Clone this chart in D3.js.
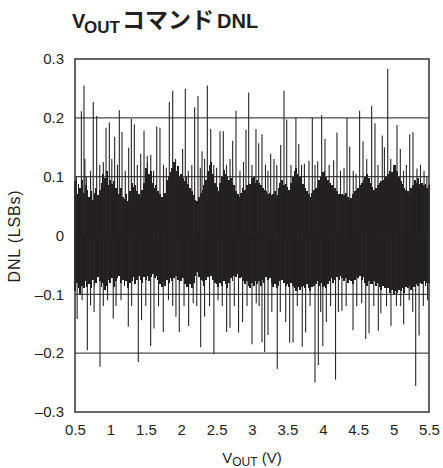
<!DOCTYPE html>
<html>
<head>
<meta charset="utf-8">
<script src="https://cdn.jsdelivr.net/npm/d3@7"></script>
<style>
body { margin: 0; background: #fff; }
text { font-family: "Liberation Sans", Arial, sans-serif; fill: #231f20; }
</style>
</head>
<body>
<div id="chart"></div>
<script>
// VOUT command DNL
const xTicks = [0.5, 1, 1.5, 2, 2.5, 3, 3.5, 4, 4.5, 5, 5.5];
const yTicks = [-0.3, -0.2, -0.1, 0, 0.1, 0.2, 0.3];
const yGrid = [-0.2, -0.1, 0.1, 0.2];

// solid part of the band, one value per 0.1 V from 0.5 V to 5.5 V
const coreHi = [0.06, 0.055, 0.045, 0.05, 0.065, 0.06, 0.05, 0.045, 0.055, 0.045,
  0.08, 0.055, 0.045, 0.065, 0.08, 0.065, 0.055, 0.045, 0.05, 0.08,
  0.05, 0.07, 0.06, 0.045, 0.05, 0.06, 0.06, 0.05, 0.045, 0.06,
  0.05, 0.07, 0.06, 0.045, 0.05, 0.07, 0.06, 0.05, 0.045, 0.045,
  0.05, 0.065, 0.05, 0.06, 0.065, 0.075, 0.06, 0.05, 0.06, 0.06, 0.055];
const coreLo = [-0.075, -0.07, -0.065, -0.06, -0.065, -0.06, -0.055, -0.065, -0.06, -0.055,
  -0.055, -0.05, -0.065, -0.06, -0.055, -0.06, -0.07, -0.05, -0.06, -0.055,
  -0.065, -0.065, -0.055, -0.05, -0.065, -0.065, -0.06, -0.055, -0.07, -0.06,
  -0.065, -0.075, -0.07, -0.075, -0.065, -0.07, -0.06, -0.055, -0.06, -0.06,
  -0.055, -0.065, -0.065, -0.075, -0.08, -0.085, -0.08, -0.075, -0.07, -0.065, -0.065];

// ragged edge of the band, one value per 0.025 V from 0.5 V to 5.5 V
const edgeHi = [
  0.092, 0.07, 0.088, 0.08, 0.095, 0.072, 0.085, 0.078,
  0.066, 0.075, 0.06, 0.072, 0.08, 0.068, 0.078, 0.09,
  0.105, 0.098, 0.11, 0.085, 0.095, 0.088, 0.092, 0.08,
  0.078, 0.07, 0.08, 0.065, 0.062, 0.07, 0.058, 0.075,
  0.09, 0.082, 0.085, 0.075, 0.07, 0.065, 0.078, 0.09,
  0.115, 0.125, 0.105, 0.11, 0.09, 0.08, 0.085, 0.075,
  0.07, 0.065, 0.078, 0.072, 0.095, 0.1, 0.108, 0.115,
  0.125, 0.11, 0.118, 0.1, 0.105, 0.098, 0.092, 0.1,
  0.088, 0.08, 0.075, 0.068, 0.06, 0.058, 0.065, 0.072,
  0.078, 0.085, 0.095, 0.11, 0.12, 0.125, 0.105, 0.09,
  0.082, 0.075, 0.09, 0.1, 0.112, 0.105, 0.1, 0.095,
  0.098, 0.09, 0.085, 0.075, 0.07, 0.065, 0.072, 0.08,
  0.078, 0.085, 0.09, 0.088, 0.098, 0.1, 0.09, 0.095,
  0.09, 0.085, 0.08, 0.078, 0.075, 0.07, 0.072, 0.068,
  0.07, 0.075, 0.068, 0.08, 0.09, 0.095, 0.085, 0.088,
  0.082, 0.078, 0.09, 0.1, 0.11, 0.115, 0.105, 0.1,
  0.092, 0.088, 0.08, 0.075, 0.07, 0.066, 0.072, 0.078,
  0.08, 0.085, 0.095, 0.1, 0.108, 0.11, 0.1, 0.095,
  0.09, 0.085, 0.078, 0.08, 0.075, 0.07, 0.072, 0.07,
  0.068, 0.072, 0.065, 0.06, 0.064, 0.07, 0.075, 0.078,
  0.08, 0.085, 0.09, 0.095, 0.1, 0.105, 0.098, 0.09,
  0.082, 0.078, 0.08, 0.085, 0.09, 0.092, 0.095, 0.1,
  0.1, 0.105, 0.11, 0.108, 0.115, 0.12, 0.11, 0.1,
  0.092, 0.088, 0.08, 0.078, 0.075, 0.07, 0.08, 0.085,
  0.095, 0.09, 0.098, 0.088, 0.09, 0.085, 0.088, 0.08,
  0.085];
const edgeLo = [
  -0.095, -0.08, -0.09, -0.1, -0.085, -0.09, -0.078, -0.088,
  -0.082, -0.09, -0.075, -0.085, -0.08, -0.07, -0.078, -0.088,
  -0.08, -0.092, -0.085, -0.075, -0.08, -0.072, -0.088, -0.078,
  -0.072, -0.068, -0.08, -0.075, -0.085, -0.078, -0.09, -0.08,
  -0.078, -0.07, -0.082, -0.075, -0.068, -0.075, -0.08, -0.07,
  -0.075, -0.068, -0.078, -0.07, -0.065, -0.072, -0.068, -0.075,
  -0.082, -0.088, -0.078, -0.085, -0.075, -0.08, -0.072, -0.078,
  -0.072, -0.068, -0.075, -0.08, -0.078, -0.072, -0.082, -0.088,
  -0.088, -0.082, -0.09, -0.08, -0.068, -0.062, -0.07, -0.075,
  -0.078, -0.085, -0.075, -0.07, -0.072, -0.068, -0.075, -0.08,
  -0.082, -0.088, -0.08, -0.085, -0.078, -0.082, -0.09, -0.08,
  -0.072, -0.078, -0.068, -0.07, -0.065, -0.072, -0.07, -0.078,
  -0.082, -0.078, -0.085, -0.09, -0.08, -0.085, -0.078, -0.082,
  -0.078, -0.085, -0.075, -0.08, -0.07, -0.075, -0.072, -0.08,
  -0.088, -0.082, -0.09, -0.085, -0.078, -0.075, -0.08, -0.085,
  -0.082, -0.088, -0.08, -0.085, -0.09, -0.095, -0.088, -0.092,
  -0.088, -0.085, -0.09, -0.082, -0.09, -0.095, -0.088, -0.085,
  -0.082, -0.078, -0.085, -0.08, -0.088, -0.085, -0.09, -0.082,
  -0.078, -0.072, -0.08, -0.075, -0.07, -0.075, -0.068, -0.072,
  -0.078, -0.072, -0.08, -0.075, -0.078, -0.082, -0.075, -0.07,
  -0.072, -0.068, -0.075, -0.07, -0.08, -0.085, -0.078, -0.082,
  -0.082, -0.078, -0.085, -0.08, -0.088, -0.092, -0.085, -0.09,
  -0.095, -0.09, -0.098, -0.092, -0.1, -0.095, -0.098, -0.092,
  -0.095, -0.09, -0.098, -0.088, -0.09, -0.085, -0.092, -0.088,
  -0.088, -0.082, -0.085, -0.08, -0.082, -0.078, -0.085, -0.08,
  -0.08];

// individual codes sticking out of the band
const upV = [0.52, 0.59, 0.627, 0.64, 0.66, 0.72, 0.758, 0.806, 0.85, 0.9, 0.938, 0.985,
  1.02, 1.06, 1.1, 1.126, 1.164, 1.21, 1.258, 1.296, 1.338, 1.38, 1.428, 1.475,
  1.52, 1.57, 1.61, 1.654, 1.7, 1.75, 1.79, 1.832, 1.88, 1.92, 1.96, 2.02, 2.058,
  2.1, 2.15, 2.19, 2.237, 2.27, 2.294, 2.33, 2.369, 2.417, 2.46, 2.5, 2.548, 2.595,
  2.64, 2.69, 2.727, 2.774, 2.83, 2.88, 2.915, 2.953, 3.0, 3.056, 3.094, 3.141,
  3.19, 3.225, 3.264, 3.31, 3.35, 3.405, 3.452, 3.49, 3.55, 3.62, 3.66, 3.7, 3.74,
  3.805, 3.852, 3.89, 3.928, 3.984, 4.031, 4.09, 4.153, 4.2, 4.25, 4.3, 4.342, 4.38,
  4.43, 4.47, 4.52, 4.568, 4.62, 4.69, 4.737, 4.78, 4.84, 4.87, 4.917, 4.96, 5.0,
  5.048, 5.095, 5.14, 5.18, 5.227, 5.274, 5.33, 5.38, 5.43, 5.47];
const upDNL = [0.1, 0.211, 0.255, 0.13, 0.1, 0.11, 0.227, 0.203, 0.12, 0.125, 0.183, 0.192,
  0.13, 0.168, 0.12, 0.213, 0.176, 0.11, 0.149, 0.198, 0.189, 0.12, 0.139, 0.178,
  0.135, 0.137, 0.11, 0.185, 0.183, 0.12, 0.115, 0.227, 0.246, 0.13, 0.1, 0.147, 0.249,
  0.11, 0.12, 0.218, 0.237, 0.115, 0.143, 0.13, 0.255, 0.181, 0.12, 0.115, 0.177, 0.177,
  0.12, 0.13, 0.161, 0.212, 0.11, 0.125, 0.18, 0.243, 0.12, 0.181, 0.157, 0.172,
  0.12, 0.11, 0.139, 0.13, 0.12, 0.154, 0.246, 0.197, 0.12, 0.2, 0.155, 0.12, 0.122,
  0.127, 0.2, 0.12, 0.126, 0.205, 0.164, 0.12, 0.128, 0.175, 0.11, 0.115, 0.2, 0.151,
  0.11, 0.105, 0.212, 0.16, 0.13, 0.22, 0.191, 0.12, 0.17, 0.15, 0.283, 0.13, 0.12,
  0.188, 0.147, 0.11, 0.12, 0.172, 0.176, 0.114, 0.12, 0.11, 0.1];
const dnV = [0.53, 0.6, 0.674, 0.72, 0.77, 0.853, 0.9, 0.96, 1.04, 1.08, 1.15, 1.253,
  1.3, 1.394, 1.44, 1.5, 1.569, 1.616, 1.68, 1.747, 1.82, 1.88, 1.926, 1.973, 2.04,
  2.105, 2.17, 2.22, 2.275, 2.33, 2.4, 2.462, 2.52, 2.58, 2.642, 2.689, 2.75, 2.81,
  2.867, 2.93, 3.0, 3.06, 3.1, 3.141, 3.179, 3.226, 3.28, 3.357, 3.4, 3.476, 3.532,
  3.58, 3.64, 3.71, 3.758, 3.82, 3.89, 3.937, 3.97, 4.0, 4.05, 4.11, 4.18, 4.22, 4.27,
  4.33, 4.427, 4.48, 4.55, 4.606, 4.653, 4.72, 4.784, 4.82, 4.9, 4.963, 5.04, 5.1,
  5.142, 5.22, 5.27, 5.312, 5.36, 5.42, 5.48];
const dnDNL = [-0.142, -0.11, -0.195, -0.119, -0.13, -0.223, -0.12, -0.11, -0.141, -0.12, -0.11, -0.155,
  -0.12, -0.215, -0.144, -0.12, -0.188, -0.158, -0.12, -0.164, -0.11, -0.12, -0.138, -0.164, -0.12,
  -0.154, -0.115, -0.12, -0.19, -0.138, -0.12, -0.202, -0.11, -0.12, -0.164, -0.157, -0.12, -0.165,
  -0.147, -0.12, -0.185, -0.115, -0.12, -0.182, -0.198, -0.169, -0.13, -0.227, -0.13, -0.147, -0.182,
  -0.182, -0.12, -0.189, -0.165, -0.12, -0.25, -0.22, -0.13, -0.188, -0.147, -0.12, -0.245, -0.13, -0.128,
  -0.12, -0.161, -0.12, -0.115, -0.176, -0.166, -0.12, -0.162, -0.132, -0.12, -0.154, -0.12, -0.12,
  -0.151, -0.11, -0.13, -0.256, -0.17, -0.12, -0.11];

const w = 443, h = 468;
const margin = {top: 59, right: 14, bottom: 55, left: 75};
const ink = "#231f20";

const svg = d3.select("#chart").append("svg")
    .attr("width", w)
    .attr("height", h);

const xScale = d3.scaleLinear()
    .domain([0.5, 5.5])
    .range([margin.left, w - margin.right]);

const yScale = d3.scaleLinear()
    .domain([-0.3, 0.3])
    .range([h - margin.bottom - 1, margin.top]);

// title
const narrow = "'Liberation Sans Narrow', 'Liberation Sans', sans-serif";
const title = svg.append("text")
    .attr("y", 28)
    .style("font-weight", "bold");
title.append("tspan").attr("x", 72)
    .style("font-family", narrow).style("font-size", "20px").text("V");
title.append("tspan").attr("x", 84).attr("dy", 5)
    .style("font-family", narrow).style("font-size", "17px").text("OUT");
title.append("tspan").attr("x", 122).attr("dy", -5)
    .style("font-family", "'Noto Sans CJK JP', sans-serif")
    .style("font-size", "23px").text("コマンド");
title.append("tspan").attr("x", 217)
    .style("font-family", narrow).style("font-size", "20px").text("DNL");

// grid
svg.append("g").selectAll("line")
    .data(yGrid)
  .enter().append("line")
    .attr("x1", xScale(0.5))
    .attr("x2", xScale(5.5))
    .attr("y1", d => yScale(d))
    .attr("y2", d => yScale(d))
    .attr("stroke", "#4a4a4a")
    .attr("stroke-width", 1.3);

// solid band
const band = d3.area()
    .x((d, i) => xScale(0.5 + i * 0.1))
    .y0((d, i) => yScale(coreLo[i]))
    .y1(d => yScale(d));
svg.append("path")
    .datum(coreHi)
    .attr("d", band)
    .attr("fill", ink);

// ragged edge, one line per 0.025 V
const plot = svg.append("g");
const edgeX = (d, i) => xScale(0.5 + i * 0.025);
plot.selectAll("line.eh")
    .data(edgeHi)
  .enter().append("line")
    .attr("class", "eh")
    .attr("x1", edgeX).attr("x2", edgeX)
    .attr("y1", yScale(0))
    .attr("y2", d => yScale(d))
    .attr("stroke", ink)
    .attr("stroke-width", 1.85)
    .attr("shape-rendering", "crispEdges");
plot.selectAll("line.el")
    .data(edgeLo)
  .enter().append("line")
    .attr("class", "el")
    .attr("x1", edgeX).attr("x2", edgeX)
    .attr("y1", yScale(0))
    .attr("y2", d => yScale(d))
    .attr("stroke", ink)
    .attr("stroke-width", 1.85)
    .attr("shape-rendering", "crispEdges");

// spikes
plot.selectAll("line.up")
    .data(d3.zip(upV, upDNL))
  .enter().append("line")
    .attr("class", "up")
    .attr("x1", d => xScale(d[0]))
    .attr("x2", d => xScale(d[0]))
    .attr("y1", yScale(0))
    .attr("y2", d => yScale(d[1]))
    .attr("stroke", "#262626")
    .attr("stroke-width", 1.1);
plot.selectAll("line.dn")
    .data(d3.zip(dnV, dnDNL))
  .enter().append("line")
    .attr("class", "dn")
    .attr("x1", d => xScale(d[0]))
    .attr("x2", d => xScale(d[0]))
    .attr("y1", yScale(0))
    .attr("y2", d => yScale(d[1]))
    .attr("stroke", "#262626")
    .attr("stroke-width", 1.1);

// frame
svg.append("rect")
    .attr("x", xScale(0.5))
    .attr("y", yScale(0.3))
    .attr("width", xScale(5.5) - xScale(0.5))
    .attr("height", yScale(-0.3) - yScale(0.3))
    .attr("fill", "none")
    .attr("stroke", "#333")
    .attr("stroke-width", 1.5);

// axes
const fmtY = d => d === 0 ? "0" : (d < 0 ? "\u2013" + Math.abs(d) : String(d));
const xAxis = d3.axisBottom(xScale).tickValues(xTicks).tickSize(0).tickPadding(12)
    .tickFormat(d => String(d));
const yAxis = d3.axisLeft(yScale).tickValues(yTicks).tickSize(0).tickPadding(11)
    .tickFormat(fmtY);

svg.append("g")
    .attr("class", "xAxis")
    .attr("transform", `translate(0, ${yScale(-0.3)})`)
    .call(xAxis)
    .call(g => g.select(".domain").remove());
svg.append("g")
    .attr("class", "yAxis")
    .attr("transform", `translate(${xScale(0.5)}, 0)`)
    .call(yAxis)
    .call(g => g.select(".domain").remove());
svg.selectAll(".xAxis text, .yAxis text")
    .style("font-size", "15px")
    .attr("fill", ink);

// axis labels
const xl = svg.append("text")
    .attr("x", (xScale(0.5) + xScale(5.5)) / 2)
    .attr("y", 463)
    .attr("text-anchor", "middle")
    .style("font-size", "15px");
xl.append("tspan").text("V");
xl.append("tspan").attr("dy", 3).style("font-size", "12px").text("OUT");
xl.append("tspan").attr("dy", -3).text(" (V)");

svg.append("text")
    .attr("transform", "translate(20, 236) rotate(-90)")
    .attr("text-anchor", "middle")
    .style("font-size", "16px")
    .style("letter-spacing", "0.8px")
    .text("DNL (LSBs)");
</script>
</body>
</html>
